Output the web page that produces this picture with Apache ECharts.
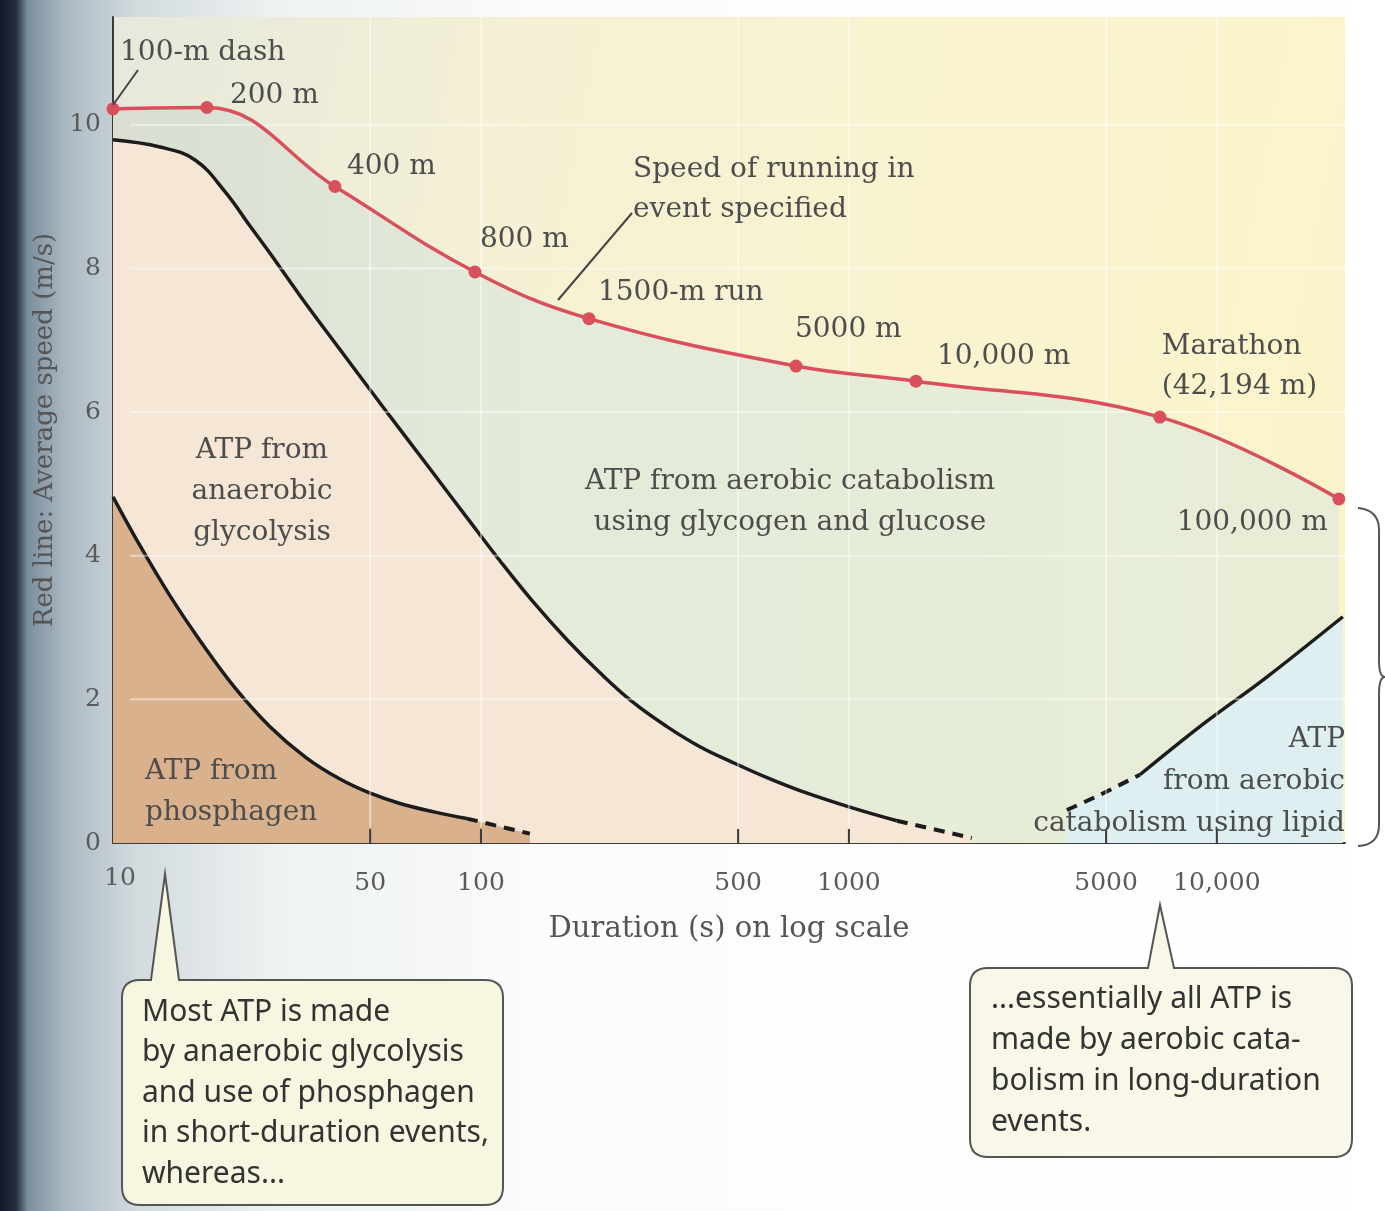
<!DOCTYPE html>
<html><head><meta charset="utf-8">
<script src="https://cdn.jsdelivr.net/npm/echarts@6/dist/echarts.min.js"></script>
<style>html,body{margin:0;padding:0;background:#fff}#c{width:1385px;height:1211px}</style>
</head><body><div id="c"></div>
<script>
// ---------- data (duration in s, speed in m/s) ----------
const eventNames = ['100-m dash', '200 m', '400 m', '800 m', '1500-m run', '5000 m', '10,000 m', 'Marathon\n(42,194 m)', '100,000 m'];
const eventDur   = [10, 18.0, 40.1, 96.3, 196.6, 718, 1521, 7000, 21460];
const eventSpeed = [10.22, 10.24, 9.14, 7.95, 7.30, 6.64, 6.43, 5.93, 4.79];

const glyDur = [10, 13.42, 16.71, 20.15, 23.57, 26.71, 32.23, 41.39, 54.17, 72.68, 91.62, 112.6, 138.5, 171.3, 210.6, 258.8, 320.2, 393.7, 484.1, 598.8, 736.1, 1006, 1350];
const glyVal = [9.79, 9.69, 9.51, 9.07, 8.59, 8.21, 7.62, 6.87, 6.07, 5.21, 4.53, 3.93, 3.36, 2.83, 2.37, 1.96, 1.62, 1.34, 1.12, 0.91, 0.73, 0.50, 0.31];
const glyDashDur = [1350, 2158];
const glyDashVal = [0.31, 0.07];

const phoDur = [10, 11.84, 14.29, 17.23, 21.46, 26.71, 33.46, 41.39, 49.62, 60.26, 74.99, 91.62];
const phoVal = [4.82, 4.14, 3.44, 2.82, 2.16, 1.62, 1.19, 0.89, 0.70, 0.55, 0.43, 0.34];
const phoDashDur = [91.62, 135.8];
const phoDashVal = [0.34, 0.13];

const lipDashDur = [3912, 4808, 6177];
const lipDashVal = [0.46, 0.67, 0.95];
const lipDur = [6177, 8990, 13670, 22000];
const lipVal = [0.95, 1.62, 2.31, 3.15];

const xTickValues = [10, 50, 100, 500, 1000, 5000, 10000];
const xTickLabels = ['10', '50', '100', '500', '1000', '5000', '10,000'];
const yTickValues = [0, 2, 4, 6, 8, 10];
const xMin = 10, xMax = 22300, yMin = 0, yMax = 11.5;

// label placement for each event point: [dx, dy, align]
const eventLabelPos = [[7, -56, 'left'], [23, -12, 'left'], [12, -20, 'left'], [5, -32, 'left'],
  [9, -26, 'left'], [-1, -36, 'left'], [21, -24, 'left'], [2, -50, 'left'], [-11, 24, 'right']];

const pairs = (xs, ys) => xs.map((x, i) => [x, ys[i]]);
const SERIF = '"DejaVu Serif", "Liberation Serif", serif';
const SANS = '"Noto Sans", "Open Sans", sans-serif';
const txtCol = '#4d4d4d';
const FS = 28;

const chart = echarts.init(document.getElementById('c'), null, {renderer: 'canvas'});

const redData = eventDur.map((d, i) => ({
  value: [d, eventSpeed[i]],
  label: {
    show: true, formatter: eventNames[i], position: 'inside',
    offset: [eventLabelPos[i][0], eventLabelPos[i][1]],
    align: eventLabelPos[i][2], verticalAlign: 'middle',
    fontFamily: SERIF, fontSize: FS, color: txtCol, lineHeight: 40
  }
}));

const blackLine = {color: '#1c1c1c', width: 3.5};
const dashLine = {color: '#1c1c1c', width: 4, type: [11, 8]};
const SM = 0.4;

const calloutPaths = [
  'M140 980 L151 980 L165 874 L179 980 L485 980 Q503 980 503 998 L503 1187 Q503 1205 485 1205 L140 1205 Q122 1205 122 1187 L122 998 Q122 980 140 980 Z',
  'M988 968 L1148 968 L1160 905 L1174 968 L1334 968 Q1352 968 1352 986 L1352 1139 Q1352 1157 1334 1157 L988 1157 Q970 1157 970 1139 L970 986 Q970 968 988 968 Z'
];
const bracePath = 'M1358 508 Q1379 510 1379 530 L1379 660 Q1379 677 1385 677 Q1379 677 1379 694 L1379 825 Q1379 845 1358 846';

const option = {
  animation: false,
  backgroundColor: 'transparent',
  grid: {
    left: 113, right: 40, top: 17, bottom: 368, show: true, borderWidth: 0,
    backgroundColor: {type: 'linear', x: 0, y: 0, x2: 1, y2: 0.3, colorStops: [
      {offset: 0, color: '#e6e8dd'}, {offset: 0.35, color: '#f6f1d4'}, {offset: 1, color: '#fbf4cb'}]}
  },
  xAxis: {
    type: 'log', logBase: 10, min: xMin, max: xMax,
    axisLine: {show: true, lineStyle: {color: '#3a3a3a', width: 2}},
    axisTick: {show: false}, axisLabel: {show: false}, splitLine: {show: false},
    name: 'Duration (s) on log scale', nameLocation: 'middle', nameGap: 72,
    nameTextStyle: {fontFamily: SERIF, fontSize: 29, color: '#555'}
  },
  yAxis: {
    type: 'value', min: yMin, max: yMax, interval: 2,
    axisLine: {show: true, lineStyle: {color: '#3a3a3a', width: 2}},
    axisTick: {show: true, inside: true, length: 15, lineStyle: {color: '#3a3a3a', width: 2}, customValues: yTickValues},
    axisLabel: {show: true, customValues: yTickValues, margin: 12, fontFamily: SERIF, fontSize: 25, color: '#5a5a5a'},
    splitLine: {show: false},
    name: 'Red line: Average speed (m/s)', nameLocation: 'middle', nameRotate: 90, nameGap: 50,
    nameTextStyle: {fontFamily: SERIF, fontSize: 26, color: '#555'}
  },
  series: [
    { // area under the speed curve
      name: 'speed-area', type: 'line', data: pairs(eventDur, eventSpeed), smooth: SM,
      showSymbol: false, z: 1, lineStyle: {width: 0},
      areaStyle: {origin: 'start', opacity: 1, color: {type: 'linear', x: 0, y: 0, x2: 1, y2: 0, colorStops: [
        {offset: 0, color: '#d9ddd2'}, {offset: 0.3, color: '#e3eada'}, {offset: 1, color: '#e8eed5'}]}}
    },
    {
      name: 'glycolysis', type: 'line', data: pairs(glyDur, glyVal), smooth: SM,
      showSymbol: false, z: 3, lineStyle: blackLine,
      areaStyle: {origin: 'start', opacity: 1, color: '#f5e6d6'}
    },
    {
      name: 'glycolysis-dash', type: 'line', data: pairs(glyDashDur, glyDashVal), smooth: false,
      showSymbol: false, z: 3, lineStyle: dashLine,
      areaStyle: {origin: 'start', opacity: 1, color: '#f5e6d6'}
    },
    {
      name: 'phosphagen', type: 'line', data: pairs(phoDur, phoVal), smooth: SM,
      showSymbol: false, z: 4, lineStyle: blackLine,
      areaStyle: {origin: 'start', opacity: 1, color: '#d9b28d'}
    },
    {
      name: 'phosphagen-dash', type: 'line', data: pairs(phoDashDur, phoDashVal), smooth: false,
      showSymbol: false, z: 4, lineStyle: dashLine,
      areaStyle: {origin: 'start', opacity: 1, color: '#d9b28d'}
    },
    {
      name: 'lipid-dash', type: 'line', data: pairs(lipDashDur, lipDashVal), smooth: 0.3,
      showSymbol: false, z: 3, lineStyle: dashLine,
      areaStyle: {origin: 'start', opacity: 1, color: '#deeff1'}
    },
    {
      name: 'lipid', type: 'line', data: pairs(lipDur, lipVal), smooth: 0.3,
      showSymbol: false, z: 3, lineStyle: blackLine,
      areaStyle: {origin: 'start', opacity: 1, color: '#deeff1'}
    },
    {
      name: 'xticks', type: 'custom', coordinateSystem: 'cartesian2d', silent: true, clip: false, z: 5,
      data: xTickValues.map((v, i) => [v, 0, i]),
      renderItem(params, api) {
        const v = api.value(0), i = api.value(2);
        const p = api.coord([v, 0]);
        const top = api.coord([v, yMax]);
        const ch = [];
        if (i > 0) {
          ch.push({type: 'line', shape: {x1: p[0], y1: p[1] - 16, x2: top[0], y2: top[1]},
            style: {stroke: 'rgba(255,255,255,0.45)', lineWidth: 2}});
          ch.push({type: 'line', shape: {x1: p[0], y1: p[1], x2: p[0], y2: p[1] - 14},
            style: {stroke: '#3a3a3a', lineWidth: 2}});
        }
        if (i === 0) {
          yTickValues.slice(1).forEach(yv => {
            const a = api.coord([xMin, yv]), b = api.coord([xMax, yv]);
            ch.push({type: 'line', shape: {x1: a[0] + 17, y1: a[1], x2: b[0], y2: b[1]},
              style: {stroke: 'rgba(255,255,255,0.45)', lineWidth: 2}});
          });
        }
        ch.push({type: 'text', style: {text: xTickLabels[i], x: p[0] + (i === 0 ? 7 : 0), y: p[1] + (i === 0 ? 35 : 40),
          textAlign: 'center', textVerticalAlign: 'middle', font: '25px ' + SERIF, fill: '#5a5a5a'}});
        return {type: 'group', children: ch};
      }
    },
    { // speed line, event points and labels on top
      name: 'speed', type: 'line', data: redData, smooth: SM,
      symbol: 'circle', symbolSize: 13, z: 8,
      itemStyle: {color: '#d9505c'}, lineStyle: {color: '#d9505c', width: 3.5}
    },
    {
      name: 'decor', type: 'custom', coordinateSystem: 'none', silent: true, z: 20, data: [[0]],
      renderItem() {
        return {type: 'group', children: [
          {type: 'path', shape: {pathData: bracePath}, style: {stroke: '#555', lineWidth: 2, fill: null}},
          {type: 'path', shape: {pathData: calloutPaths[0]}, style: {stroke: '#555', lineWidth: 2, fill: '#f7f6e1'}},
          {type: 'path', shape: {pathData: calloutPaths[1]}, style: {stroke: '#555', lineWidth: 2, fill: '#f9f8e8'}},
          {type: 'text', style: {text: 'Most ATP is made\nby anaerobic glycolysis\nand use of phosphagen\nin short-duration events,\nwhereas...',
            x: 142, y: 1093, textVerticalAlign: 'middle', font: '30px ' + SANS, fill: '#333', lineHeight: 40.5}},
          {type: 'text', style: {text: '...essentially all ATP is\nmade by aerobic cata-\nbolism in long-duration\nevents.',
            x: 991, y: 1061, textVerticalAlign: 'middle', font: '30px ' + SANS, fill: '#333', lineHeight: 41}}
        ]};
      }
    }
  ],
  graphic: [
    {type: 'rect', z: -100, silent: true, shape: {x: 0, y: 0, width: 1385, height: 1211},
      style: {fill: {type: 'linear', x: 0, y: 0, x2: 1, y2: 0, colorStops: [
        {offset: 0, color: '#121826'}, {offset: 0.012, color: '#273142'}, {offset: 0.02, color: '#7d8f9d'},
        {offset: 0.05, color: '#adbbc4'}, {offset: 0.1, color: '#d3dbdf'}, {offset: 0.2, color: '#eef2f2'},
        {offset: 0.4, color: '#fbfcfb'}, {offset: 1, color: '#ffffff'}]}}},
    {type: 'line', z: 50, silent: true, shape: {x1: 113, y1: 105, x2: 138, y2: 70}, style: {stroke: '#444', lineWidth: 2}},
    {type: 'line', z: 50, silent: true, shape: {x1: 558, y1: 300, x2: 632, y2: 213}, style: {stroke: '#444', lineWidth: 2}},
    {type: 'text', z: 50, silent: true, style: {text: 'Speed of running in\nevent specified', x: 633, y: 190,
      textVerticalAlign: 'middle', font: FS + 'px ' + SERIF, fill: txtCol, lineHeight: 40}},
    {type: 'text', z: 50, silent: true, style: {text: 'ATP from\nanaerobic\nglycolysis', x: 262, y: 492, textAlign: 'center',
      textVerticalAlign: 'middle', font: FS + 'px ' + SERIF, fill: txtCol, lineHeight: 41}},
    {type: 'text', z: 50, silent: true, style: {text: 'ATP from aerobic catabolism\nusing glycogen and glucose', x: 790, y: 502, textAlign: 'center',
      textVerticalAlign: 'middle', font: FS + 'px ' + SERIF, fill: txtCol, lineHeight: 41}},
    {type: 'text', z: 50, silent: true, style: {text: 'ATP from\nphosphagen', x: 145, y: 792, textAlign: 'left',
      textVerticalAlign: 'middle', font: FS + 'px ' + SERIF, fill: txtCol, lineHeight: 41}},
    {type: 'text', z: 50, silent: true, style: {text: 'ATP\nfrom aerobic\ncatabolism using lipid', x: 1345, y: 782, textAlign: 'right',
      textVerticalAlign: 'middle', font: FS + 'px ' + SERIF, fill: txtCol, lineHeight: 42}}
  ]
};
chart.setOption(option);
</script>
</body></html>
